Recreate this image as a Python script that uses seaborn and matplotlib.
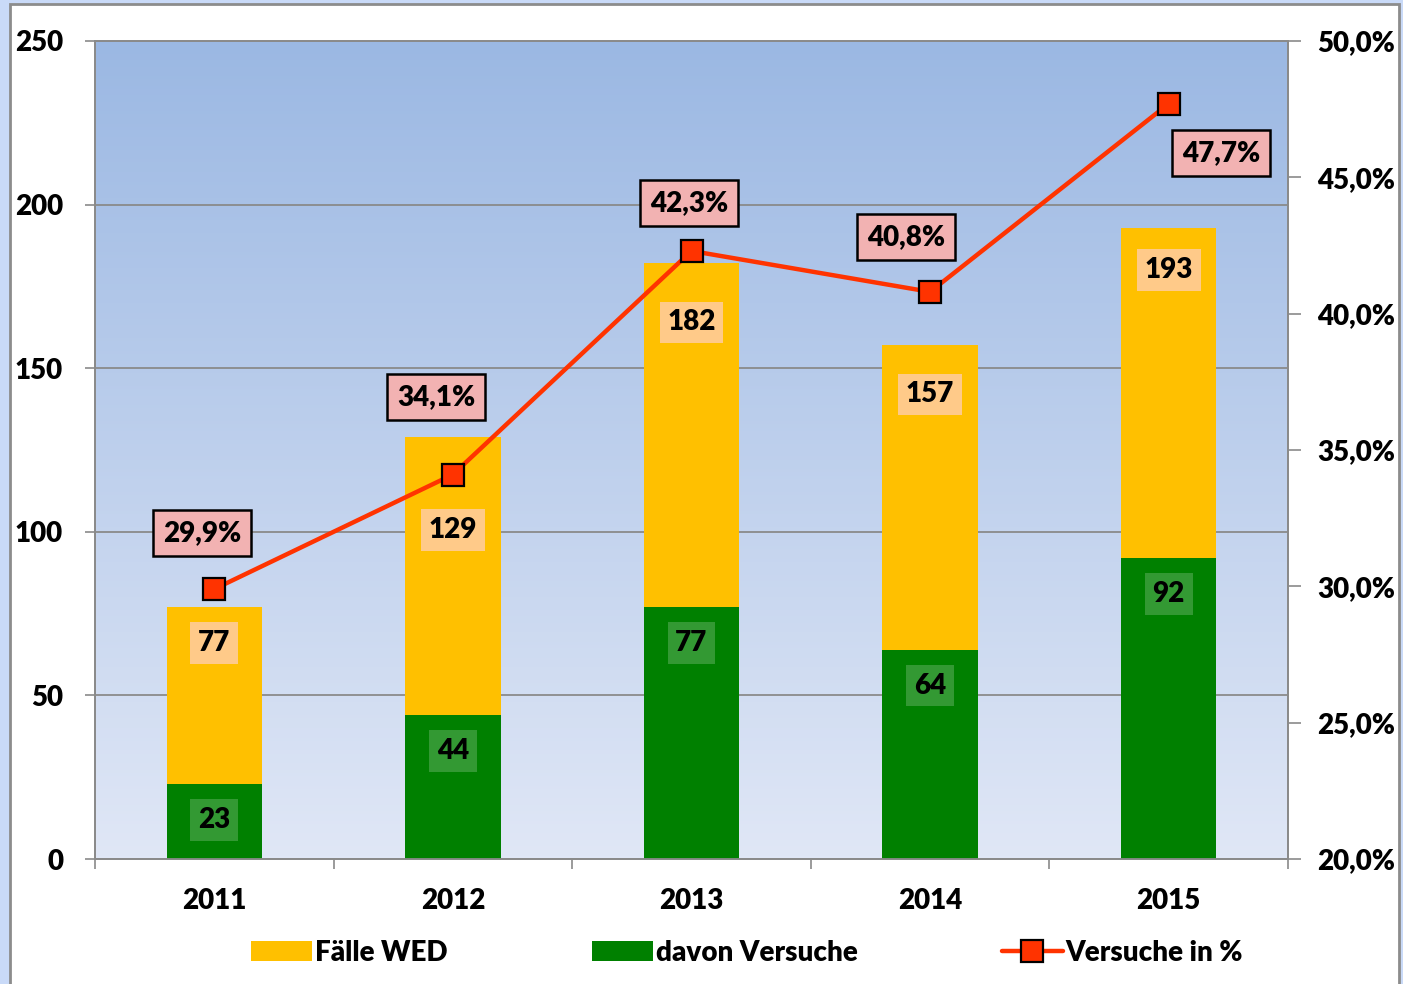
import numpy as np
import pandas as pd
import matplotlib
matplotlib.use("Agg")
import matplotlib.pyplot as plt
import seaborn as sns
from matplotlib.patches import Rectangle, Patch
from matplotlib.lines import Line2D
from matplotlib.ticker import FuncFormatter, FixedLocator

# --- Daten ---
jahre = ["2011", "2012", "2013", "2014", "2015"]
faelle_wed = [77, 129, 182, 157, 193]
davon_versuche = [23, 44, 77, 64, 92]
versuche_pct = [29.9, 34.1, 42.3, 40.8, 47.7]

# Layout der Beschriftungen (Position, nicht Daten)
faelle_label_y = [66, 100.5, 164, 142, 180]
versuche_label_dy = 11
pct_label_dx = [-0.05, -0.07, -0.01, -0.1, 0.22]
pct_label_y = [31.95, 36.95, 44.05, 42.8, 45.9]

df = pd.DataFrame({"Jahr": jahre, "Faelle": faelle_wed,
                   "Versuche": davon_versuche, "Pct": versuche_pct})

sns.set_theme(style="white")
plt.rcParams["font.family"] = ["Lato", "DejaVu Sans"]
plt.rcParams["font.weight"] = "bold"
plt.rcParams["text.color"] = "black"
plt.rcParams["xtick.color"] = "black"
plt.rcParams["ytick.color"] = "black"
plt.rcParams["xtick.labelcolor"] = "black"
plt.rcParams["ytick.labelcolor"] = "black"

FS = 20

fig = plt.figure(figsize=(14.03, 9.84), dpi=100, facecolor="#c9daf8")
# weisser Rahmen
fig.patches.append(Rectangle((10 / 1403, -0.01), 1389 / 1403, (984 - 4) / 984 + 0.01,
                             transform=fig.transFigure, facecolor="white",
                             edgecolor="#8c8c8c", linewidth=2, zorder=-10))

ax = fig.add_axes([95 / 1403, 125 / 984, 1193 / 1403, 818 / 984])
ax.set_facecolor("none")

# Hintergrundverlauf
top_c = np.array([155, 184, 227]) / 255
bot_c = np.array([224, 231, 246]) / 255
t = np.linspace(0, 1, 256)[:, None]
grad = (top_c * (1 - t) + bot_c * t)[:, None, :]
ax.imshow(grad, extent=[-0.5, 4.5, 0, 250], aspect="auto", zorder=0)

ax.set_xlim(-0.5, 4.5)
ax.set_ylim(0, 250)
for v in [50, 100, 150, 200]:
    ax.axhline(v, color="#8a8a8a", linewidth=1.3, zorder=1)

sns.barplot(data=df, x="Jahr", y="Faelle", color="#ffc000", width=0.4,
            saturation=1, ax=ax, zorder=2, edgecolor="none", linewidth=0)
sns.barplot(data=df, x="Jahr", y="Versuche", color="#008000", width=0.4,
            saturation=1, ax=ax, zorder=3, edgecolor="none", linewidth=0)
ax.set_xlim(-0.5, 4.5)
ax.set_ylim(0, 250)

lab_kw = dict(ha="center", va="center", fontsize=FS, fontweight="heavy", zorder=5)
for i in range(len(jahre)):
    ax.text(i, faelle_label_y[i], str(faelle_wed[i]), color="black",
            bbox=dict(boxstyle="square,pad=0.28", facecolor="#ffcc99",
                      edgecolor="none", alpha=0.9), **lab_kw)
    ax.text(i, davon_versuche[i] - versuche_label_dy, str(davon_versuche[i]),
            color="black",
            bbox=dict(boxstyle="square,pad=0.28", facecolor="#339933",
                      edgecolor="none"), **lab_kw)

# Achsen links / unten
ax.set_xlabel("")
ax.set_ylabel("")
ax.set_yticks([0, 50, 100, 150, 200, 250])
ax.xaxis.set_major_locator(FixedLocator([-0.5, 0.5, 1.5, 2.5, 3.5, 4.5]))
ax.xaxis.set_minor_locator(FixedLocator([0, 1, 2, 3, 4]))
ax.set_xticklabels([], minor=False)
ax.set_xticklabels(jahre, minor=True, fontweight="heavy")
ax.tick_params(axis="x", which="major", length=7, width=1.2, color="#8a8a8a",
               direction="out", bottom=True)
ax.tick_params(axis="x", which="minor", length=0, pad=21, labelsize=FS)
ax.tick_params(axis="y", length=7, width=1.2, color="#8a8a8a", direction="out",
               left=True, pad=16, labelsize=FS)
for lbl in ax.get_yticklabels():
    lbl.set_fontweight("heavy")
for s in ax.spines.values():
    s.set_color("#8a8a8a")
    s.set_linewidth(1.3)

# rechte Achse mit Linie
ax2 = ax.twinx()
ax2.set_ylim(20, 50)
sns.lineplot(x=np.arange(len(jahre)), y=versuche_pct, ax=ax2, color="#ff3300",
             linewidth=3.2, marker="s", markersize=16, markerfacecolor="#ff3300",
             markeredgecolor="black", markeredgewidth=1.6, zorder=6)
ax2.set_xlim(-0.5, 4.5)
ax2.set_ylim(20, 50)
ax2.set_yticks([20, 25, 30, 35, 40, 45, 50])
ax2.yaxis.set_major_formatter(FuncFormatter(lambda v, p: f"{v:.1f}%".replace(".", ",")))
ax2.tick_params(axis="y", length=9, width=1.2, color="#8a8a8a", direction="out",
                right=True, pad=12, labelsize=FS)
for lbl in ax2.get_yticklabels():
    lbl.set_fontweight("heavy")
ax2.set_ylabel("")
for s in ax2.spines.values():
    s.set_color("#8a8a8a")
    s.set_linewidth(1.3)

for i, p in enumerate(versuche_pct):
    ax2.text(i + pct_label_dx[i], pct_label_y[i], f"{p:.1f}%".replace(".", ","),
             ha="center", va="center", fontsize=FS, fontweight="heavy", zorder=7,
             bbox=dict(boxstyle="square,pad=0.36", facecolor="#f2b2b2",
                       edgecolor="black", linewidth=1.8))

handles = [
    Patch(facecolor="#ffc000", edgecolor="none", label="Fälle WED"),
    Patch(facecolor="#008000", edgecolor="none", label="davon Versuche"),
    Line2D([0], [0], color="#ff3300", linewidth=3.2, marker="s", markersize=16,
           markerfacecolor="#ff3300", markeredgecolor="black",
           markeredgewidth=1.6, label="Versuche in %"),
]
fig.legend(handles=handles, loc="center", bbox_to_anchor=(747 / 1403, 31 / 984),
           ncol=3, frameon=False, handlelength=2.2,
           handleheight=0.75, handletextpad=0.1, columnspacing=5.2,
           prop={"weight": "heavy", "size": FS}, labelcolor="black")

fig.savefig("out.png", dpi=100, facecolor=fig.get_facecolor())
